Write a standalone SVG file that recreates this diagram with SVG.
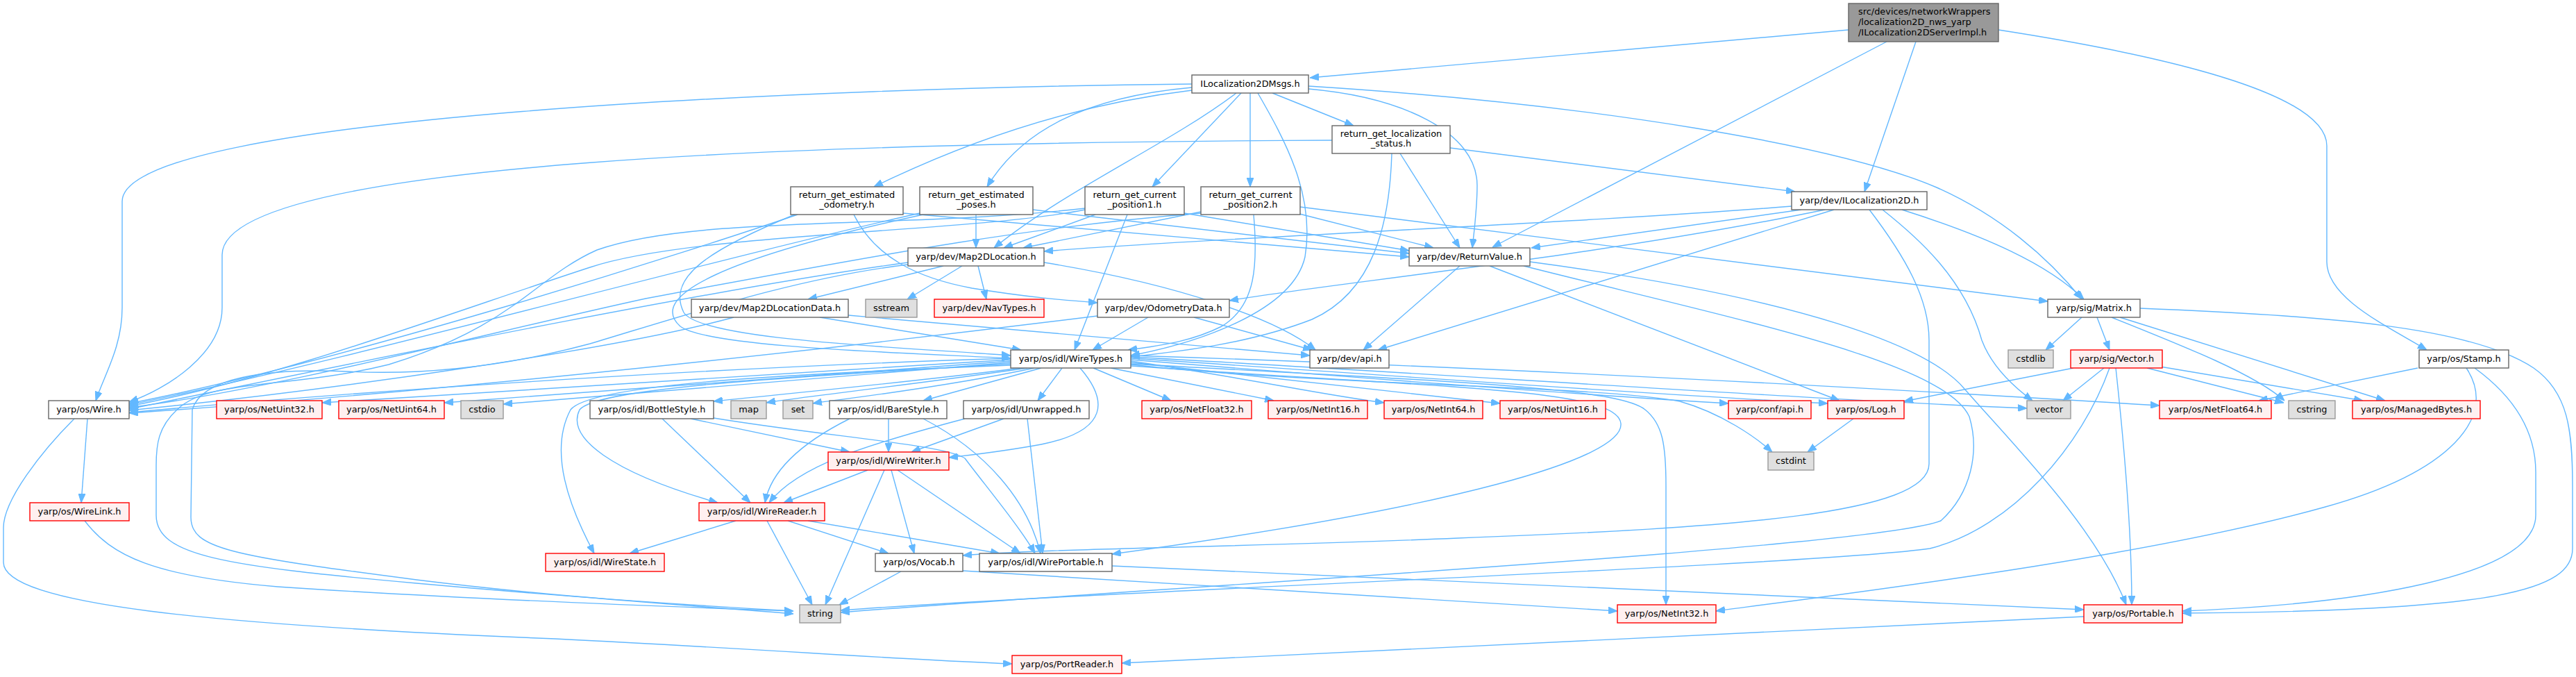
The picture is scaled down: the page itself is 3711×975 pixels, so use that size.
<svg xmlns="http://www.w3.org/2000/svg" width="3711" height="975" viewBox="0 0 3711 975">
<style>
text{font-family:"DejaVu Sans","Liberation Sans",sans-serif;font-size:12.9px;fill:#000;text-anchor:middle}
.n rect{fill:#fff;stroke:#666;stroke-width:1.4}
.r rect{fill:#fff0f0;stroke:#f00;stroke-width:1.4}
.g rect{fill:#e0e0e0;stroke:#999;stroke-width:1.4}
.s rect{fill:#999;stroke:#666;stroke-width:1.4}
#edges path{fill:none;stroke:#63b8ff;stroke-width:1.4;marker-end:url(#a)}
</style>
<defs>
<marker id="a" markerWidth="13" markerHeight="10" refX="13" refY="5" orient="auto" markerUnits="userSpaceOnUse"><path d="M0,0 L13,5 L0,10 z" fill="#63b8ff" stroke="#63b8ff" stroke-width="1"/></marker>
</defs>
<rect width="3711" height="975" fill="#fff"/>
<g id="edges">
<path d="M2663,43 L1887,112"/>
<path d="M2718,60 L2150,356"/>
<path d="M2760,60 L2686,276"/>
<path d="M2879,43 C3150,85 3352,140 3352,210 L3352,377 C3352,430 3440,470 3496,504"/>
<path d="M1717,121 C1200,126 176,165 176,290 L176,443 C176,500 150,540 138,577"/>
<path d="M1717,130 C1550,150 1400,200 1259,269"/>
<path d="M1717,126 C1560,140 1470,190 1422,269"/>
<path d="M1781,134 C1680,210 1540,270 1432,357"/>
<path d="M1788,134 L1660,269"/>
<path d="M1801,134 L1801,269"/>
<path d="M1833,134 L1950,181"/>
<path d="M1885,128 C2020,140 2128,190 2128,267 C2128,300 2124,330 2121,357"/>
<path d="M1812,134 C1850,200 1895,280 1880,370 C1862,450 1720,495 1629,512"/>
<path d="M1885,124 C2300,150 2650,210 2790,270 C2880,310 2950,370 2999,431"/>
<path d="M1919,202 C1200,205 320,230 320,367 L320,443 C320,510 240,560 186,579"/>
<path d="M2005,221 C2002,320 1980,420 1890,460 C1800,495 1700,506 1629,514"/>
<path d="M2017,221 L2103,357"/>
<path d="M2089,213 L2586,276"/>
<path d="M1149,309 C1000,360 500,520 186,581"/>
<path d="M1145,309 C1020,360 960,400 985,450 C1010,490 1300,500 1456,512"/>
<path d="M1301,307 L2030,370"/>
<path d="M1230,309 C1260,370 1320,400 1400,415 C1480,428 1530,432 1581,436"/>
<path d="M1325,307 C1000,380 500,520 186,583"/>
<path d="M1330,309 C1050,370 930,425 980,470 C1020,500 1300,508 1456,516"/>
<path d="M1488,302 L2030,365"/>
<path d="M1406,309 L1406,357"/>
<path d="M1563,302 C1400,335 1000,335 850,385 C650,450 400,545 186,585"/>
<path d="M1563,300 C1300,330 1000,310 860,360 C770,400 740,470 560,525 C420,560 300,545 255,590 C228,615 225,640 225,670 L225,742 C225,800 320,815 600,840 C800,858 1000,872 1143,880"/>
<path d="M1624,309 L1548,504"/>
<path d="M1706,307 L2030,361"/>
<path d="M1578,309 L1446,357"/>
<path d="M1730,307 C1500,325 1300,360 930,430 C700,480 400,560 186,587"/>
<path d="M1806,309 C1812,380 1810,440 1760,470 C1720,490 1680,497 1625,504"/>
<path d="M1872,308 L2065,357"/>
<path d="M1730,305 L1474,357"/>
<path d="M1873,298 L2950,434"/>
<path d="M2581,297 C2300,320 1700,345 1504,362"/>
<path d="M2595,302 L2206,357"/>
<path d="M2629,302 C2300,370 1900,410 1771,433"/>
<path d="M2642,302 L1985,504"/>
<path d="M2693,302 C2745,370 2779,430 2779,490 L2779,668 C2779,740 2500,760 2100,775 C1800,788 1500,790 1387,800"/>
<path d="M2712,302 C2760,340 2830,400 2855,490 C2870,530 2905,560 2928,577"/>
<path d="M2740,302 C2860,340 2950,380 3002,431"/>
<path d="M1359,383 L1164,431"/>
<path d="M1386,383 L1307,431"/>
<path d="M1409,383 L1421,431"/>
<path d="M1504,378 C1700,410 1840,460 1895,504"/>
<path d="M1308,378 C1000,420 500,525 186,589"/>
<path d="M1308,381 C1150,400 1000,450 850,495 C720,530 600,540 500,535 C380,530 290,545 277,590 L275,745 C275,790 330,800 600,835 C800,860 1000,872 1143,884"/>
<path d="M1057,457 C900,500 500,560 186,591"/>
<path d="M1181,457 L1471,504"/>
<path d="M1222,454 L1887,512"/>
<path d="M1581,455 C1300,490 700,560 186,595"/>
<path d="M1654,457 L1574,504"/>
<path d="M1720,457 L1890,504"/>
<path d="M2103,383 L1964,504"/>
<path d="M2146,383 L2650,577"/>
<path d="M2195,383 C2500,460 2800,520 2837,600 C2852,650 2840,710 2796,750 C2700,790 1600,850 1211,882"/>
<path d="M2204,377 C2600,430 2780,500 2830,560 C2900,640 3020,760 3063,871"/>
<path d="M2999,457 L2947,504"/>
<path d="M3021,457 L3039,504"/>
<path d="M3042,457 C3150,500 3250,540 3291,577"/>
<path d="M3054,457 L3436,577"/>
<path d="M3083,444 C3350,455 3560,470 3650,530 C3700,565 3706,620 3706,700 L3706,790 C3706,850 3600,880 3144,883"/>
<path d="M2987,530 L2743,578"/>
<path d="M3031,530 L2972,577"/>
<path d="M3039,530 C3000,640 2900,760 2780,790 C2600,815 1600,850 1211,879"/>
<path d="M3048,530 C3060,640 3071,760 3071,871"/>
<path d="M3093,530 L3290,580"/>
<path d="M3112,528 L3404,577"/>
<path d="M3483,530 L3254,577"/>
<path d="M3553,530 C3600,600 3530,680 3350,730 C3100,800 2700,850 2472,880"/>
<path d="M3565,530 C3620,570 3653,620 3653,680 L3653,742 C3653,830 3400,870 3144,880"/>
<path d="M2670,603 L2604,651"/>
<path d="M1456,516 C1000,530 500,565 186,594"/>
<path d="M1456,518 C1100,540 700,565 464,580"/>
<path d="M1456,520 C1100,545 800,568 640,580"/>
<path d="M1456,522 C1100,550 850,572 725,582"/>
<path d="M1470,530 C1300,552 1100,570 1028,578"/>
<path d="M1480,530 C1300,556 1150,572 1104,580"/>
<path d="M1490,530 C1350,560 1200,576 1171,581"/>
<path d="M1500,530 L1330,577"/>
<path d="M1530,530 L1495,577"/>
<path d="M1575,530 L1687,577"/>
<path d="M1600,530 L1835,577"/>
<path d="M1629,520 C1800,545 1900,568 1994,580"/>
<path d="M1629,522 C1850,545 2050,568 2161,581"/>
<path d="M1629,518 C1900,540 2300,570 2490,581"/>
<path d="M1629,516 C2000,540 2400,570 2633,581"/>
<path d="M1629,525 C1900,555 2300,555 2420,578 C2480,595 2530,630 2553,651"/>
<path d="M1629,514 C2100,540 2600,575 2920,588"/>
<path d="M1629,512 C2200,530 2800,565 3111,584"/>
<path d="M1556,530 C1595,575 1600,620 1500,640 C1440,651 1400,655 1367,659"/>
<path d="M1456,524 C1100,545 860,560 835,590 C815,630 880,680 1034,724"/>
<path d="M1456,526 C1100,540 850,555 822,590 C790,650 820,730 856,797"/>
<path d="M1629,527 C2100,560 2330,560 2335,610 C2340,660 2100,730 1602,798"/>
<path d="M1629,524 C2100,550 2330,558 2370,590 C2395,610 2400,640 2400,700 L2400,871"/>
<path d="M995,603 L1224,651"/>
<path d="M954,603 L1081,724"/>
<path d="M1028,602 C1200,630 1360,640 1390,660 C1420,700 1470,760 1491,797"/>
<path d="M1280,603 L1280,651"/>
<path d="M1224,603 C1150,640 1110,680 1102,724"/>
<path d="M1330,603 C1420,650 1480,720 1499,797"/>
<path d="M1446,603 L1313,651"/>
<path d="M1390,603 C1250,640 1150,670 1108,724"/>
<path d="M1480,603 L1502,797"/>
<path d="M1250,677 L1129,724"/>
<path d="M1274,677 L1189,871"/>
<path d="M1284,677 L1317,797"/>
<path d="M1293,677 L1470,797"/>
<path d="M1060,750 L907,797"/>
<path d="M1105,750 L1170,871"/>
<path d="M1135,750 L1280,797"/>
<path d="M1164,750 L1440,797"/>
<path d="M1298,823 L1209,871"/>
<path d="M1387,822 L2330,880"/>
<path d="M1602,815 L3002,878"/>
<path d="M126,603 L117,724"/>
<path d="M107,603 C60,650 5,720 5,760 L5,810 C5,870 300,900 800,920 C1100,935 1300,950 1458,956"/>
<path d="M122,750 C160,800 220,830 400,845 C700,865 1000,875 1143,880"/>
<path d="M3002,888 L1616,955"/>
</g>
<g id="node_src" class="s"><rect x="2663" y="5" width="216" height="55"/><text x="2677" y="20.5" style="text-anchor:start">src/devices/networkWrappers</text><text x="2677" y="35.5" style="text-anchor:start">/localization2D_nws_yarp</text><text x="2677" y="50.5" style="text-anchor:start">/ILocalization2DServerImpl.h</text></g>
<g id="node_ilm" class="n"><rect x="1717" y="108" width="168" height="26"/><text x="1801" y="124.5">ILocalization2DMsgs.h</text></g>
<g id="node_status" class="n"><rect x="1919" y="181" width="170" height="40"/><text x="2004" y="196.5">return_get_localization</text><text x="2004" y="211">_status.h</text></g>
<g id="node_odo" class="n"><rect x="1139" y="269" width="162" height="40"/><text x="1220" y="284.5">return_get_estimated</text><text x="1220" y="299">_odometry.h</text></g>
<g id="node_poses" class="n"><rect x="1325" y="269" width="163" height="40"/><text x="1406.5" y="284.5">return_get_estimated</text><text x="1406.5" y="299">_poses.h</text></g>
<g id="node_pos1" class="n"><rect x="1563" y="269" width="143" height="40"/><text x="1634.5" y="284.5">return_get_current</text><text x="1634.5" y="299">_position1.h</text></g>
<g id="node_pos2" class="n"><rect x="1730" y="269" width="143" height="40"/><text x="1801.5" y="284.5">return_get_current</text><text x="1801.5" y="299">_position2.h</text></g>
<g id="node_iloc2d" class="n"><rect x="2581" y="276" width="195" height="26"/><text x="2678.5" y="292.5">yarp/dev/ILocalization2D.h</text></g>
<g id="node_map2d" class="n"><rect x="1308" y="357" width="196" height="26"/><text x="1406" y="373.5">yarp/dev/Map2DLocation.h</text></g>
<g id="node_retval" class="n"><rect x="2030" y="357" width="174" height="26"/><text x="2117" y="373.5">yarp/dev/ReturnValue.h</text></g>
<g id="node_m2ddata" class="n"><rect x="996" y="431" width="226" height="26"/><text x="1109" y="447.5">yarp/dev/Map2DLocationData.h</text></g>
<g id="node_sstream" class="g"><rect x="1247" y="431" width="74" height="26"/><text x="1284" y="447.5">sstream</text></g>
<g id="node_navtypes" class="r"><rect x="1346" y="431" width="158" height="26"/><text x="1425" y="447.5">yarp/dev/NavTypes.h</text></g>
<g id="node_odomdata" class="n"><rect x="1581" y="431" width="190" height="26"/><text x="1676" y="447.5">yarp/dev/OdometryData.h</text></g>
<g id="node_matrix" class="n"><rect x="2950" y="431" width="133" height="26"/><text x="3016.5" y="447.5">yarp/sig/Matrix.h</text></g>
<g id="node_wiretypes" class="n"><rect x="1456" y="504" width="173" height="26"/><text x="1542.5" y="520.5">yarp/os/idl/WireTypes.h</text></g>
<g id="node_devapi" class="n"><rect x="1887" y="504" width="114" height="26"/><text x="1944" y="520.5">yarp/dev/api.h</text></g>
<g id="node_cstdlib" class="g"><rect x="2893" y="504" width="65" height="26"/><text x="2925.5" y="520.5">cstdlib</text></g>
<g id="node_vectorh" class="r"><rect x="2983" y="504" width="132" height="26"/><text x="3049" y="520.5">yarp/sig/Vector.h</text></g>
<g id="node_stamp" class="n"><rect x="3485" y="504" width="129" height="26"/><text x="3549.5" y="520.5">yarp/os/Stamp.h</text></g>
<g id="node_wire" class="n"><rect x="70" y="577" width="116" height="26"/><text x="128" y="593.5">yarp/os/Wire.h</text></g>
<g id="node_nu32" class="r"><rect x="312" y="577" width="152" height="26"/><text x="388" y="593.5">yarp/os/NetUint32.h</text></g>
<g id="node_nu64" class="r"><rect x="488" y="577" width="152" height="26"/><text x="564" y="593.5">yarp/os/NetUint64.h</text></g>
<g id="node_cstdio" class="g"><rect x="664" y="577" width="61" height="26"/><text x="694.5" y="593.5">cstdio</text></g>
<g id="node_bottle" class="n"><rect x="850" y="577" width="178" height="26"/><text x="939" y="593.5">yarp/os/idl/BottleStyle.h</text></g>
<g id="node_map" class="g"><rect x="1053" y="577" width="51" height="26"/><text x="1078.5" y="593.5">map</text></g>
<g id="node_set" class="g"><rect x="1128" y="577" width="43" height="26"/><text x="1149.5" y="593.5">set</text></g>
<g id="node_bare" class="n"><rect x="1195" y="577" width="169" height="26"/><text x="1279.5" y="593.5">yarp/os/idl/BareStyle.h</text></g>
<g id="node_unwrapped" class="n"><rect x="1388" y="577" width="181" height="26"/><text x="1478.5" y="593.5">yarp/os/idl/Unwrapped.h</text></g>
<g id="node_nf32" class="r"><rect x="1645" y="577" width="158" height="26"/><text x="1724" y="593.5">yarp/os/NetFloat32.h</text></g>
<g id="node_ni16" class="r"><rect x="1827" y="577" width="143" height="26"/><text x="1898.5" y="593.5">yarp/os/NetInt16.h</text></g>
<g id="node_ni64" class="r"><rect x="1994" y="577" width="142" height="26"/><text x="2065" y="593.5">yarp/os/NetInt64.h</text></g>
<g id="node_nu16" class="r"><rect x="2161" y="577" width="152" height="26"/><text x="2237" y="593.5">yarp/os/NetUint16.h</text></g>
<g id="node_confapi" class="r"><rect x="2490" y="577" width="119" height="26"/><text x="2549.5" y="593.5">yarp/conf/api.h</text></g>
<g id="node_log" class="r"><rect x="2633" y="577" width="110" height="26"/><text x="2688" y="593.5">yarp/os/Log.h</text></g>
<g id="node_vector" class="g"><rect x="2920" y="577" width="63" height="26"/><text x="2951.5" y="593.5">vector</text></g>
<g id="node_nf64" class="r"><rect x="3111" y="577" width="161" height="26"/><text x="3191.5" y="593.5">yarp/os/NetFloat64.h</text></g>
<g id="node_cstring" class="g"><rect x="3297" y="577" width="67" height="26"/><text x="3330.5" y="593.5">cstring</text></g>
<g id="node_managed" class="r"><rect x="3389" y="577" width="184" height="26"/><text x="3481" y="593.5">yarp/os/ManagedBytes.h</text></g>
<g id="node_wwriter" class="r"><rect x="1193" y="651" width="174" height="26"/><text x="1280" y="667.5">yarp/os/idl/WireWriter.h</text></g>
<g id="node_cstdint" class="g"><rect x="2547" y="651" width="66" height="26"/><text x="2580" y="667.5">cstdint</text></g>
<g id="node_wirelink" class="r"><rect x="43" y="724" width="143" height="26"/><text x="114.5" y="740.5">yarp/os/WireLink.h</text></g>
<g id="node_wreader" class="r"><rect x="1007" y="724" width="181" height="26"/><text x="1097.5" y="740.5">yarp/os/idl/WireReader.h</text></g>
<g id="node_wstate" class="r"><rect x="786" y="797" width="171" height="26"/><text x="871.5" y="813.5">yarp/os/idl/WireState.h</text></g>
<g id="node_vocab" class="n"><rect x="1261" y="797" width="126" height="26"/><text x="1324" y="813.5">yarp/os/Vocab.h</text></g>
<g id="node_wportable" class="n"><rect x="1411" y="797" width="191" height="26"/><text x="1506.5" y="813.5">yarp/os/idl/WirePortable.h</text></g>
<g id="node_string" class="g"><rect x="1152" y="871" width="59" height="26"/><text x="1181.5" y="887.5">string</text></g>
<g id="node_ni32" class="r"><rect x="2330" y="871" width="142" height="26"/><text x="2401" y="887.5">yarp/os/NetInt32.h</text></g>
<g id="node_portable" class="r"><rect x="3002" y="871" width="142" height="26"/><text x="3073" y="887.5">yarp/os/Portable.h</text></g>
<g id="node_portreader" class="r"><rect x="1458" y="944" width="158" height="26"/><text x="1537" y="960.5">yarp/os/PortReader.h</text></g>
</svg>
